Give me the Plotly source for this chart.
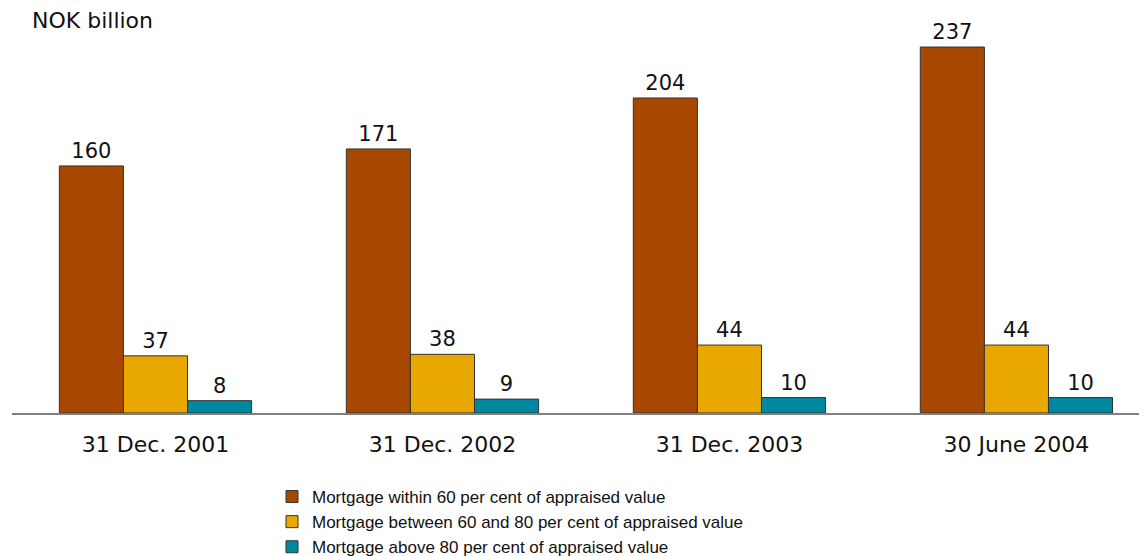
import plotly.graph_objects as go

# Mortgage loans by loan-to-value ratio, NOK billion
dates = ["31 Dec. 2001", "31 Dec. 2002", "31 Dec. 2003", "30 June 2004"]
within_60 = [160, 171, 204, 237]
between_60_80 = [37, 38, 44, 44]
above_80 = [8, 9, 10, 10]

series = [
    ("Mortgage within 60 per cent of appraised value", within_60, "#A84800"),
    ("Mortgage between 60 and 80 per cent of appraised value", between_60_80, "#E8A800"),
    ("Mortgage above 80 per cent of appraised value", above_80, "#0088A0"),
]

fig = go.Figure()
for name, vals, color in series:
    fig.add_trace(go.Bar(
        x=dates, y=vals, name=name,
        marker=dict(color=color, line=dict(color="#333333", width=1)),
        text=vals, textposition="outside", cliponaxis=False,
        textfont=dict(family="DejaVu Sans", size=21, color="#111111"),
    ))

# the page body adds an 8px offset; figure is sized so it ends at the window edge.
# plot area spans page x 12..1147 px, y 20..413 px
W, H = 1139, 548
fig.add_annotation(
    text="NOK billion", xref="paper", yref="paper",
    x=(30 - 12) / 1135, y=1.0, xanchor="left", yanchor="middle",
    showarrow=False, font=dict(family="DejaVu Sans", size=22, color="#111111"),
)

fig.update_layout(
    width=W, height=H,
    margin=dict(l=4, r=0, t=12, b=143, autoexpand=False),
    paper_bgcolor="white", plot_bgcolor="white",
    barmode="group", bargap=0.33, bargroupgap=0,
    font=dict(family="DejaVu Sans", color="#111111"),
    legend=dict(
        xref="container", yref="container",
        x=264 / W, y=1 - 471 / H, xanchor="left", yanchor="top",
        font=dict(family="Liberation Sans", size=17, color="#111111"),
        bgcolor="rgba(0,0,0,0)",
    ),
    showlegend=True,
)
fig.update_xaxes(
    range=[-0.5, 3.455], showline=True, linecolor="#808080", linewidth=2,
    ticks="", tickfont=dict(family="DejaVu Sans", size=22, color="#111111"),
    ticklabelstandoff=11, tickangle=0, showgrid=False,
)
fig.update_yaxes(range=[0, 254.5], visible=False, showgrid=False)

fig.write_html("out.html")
